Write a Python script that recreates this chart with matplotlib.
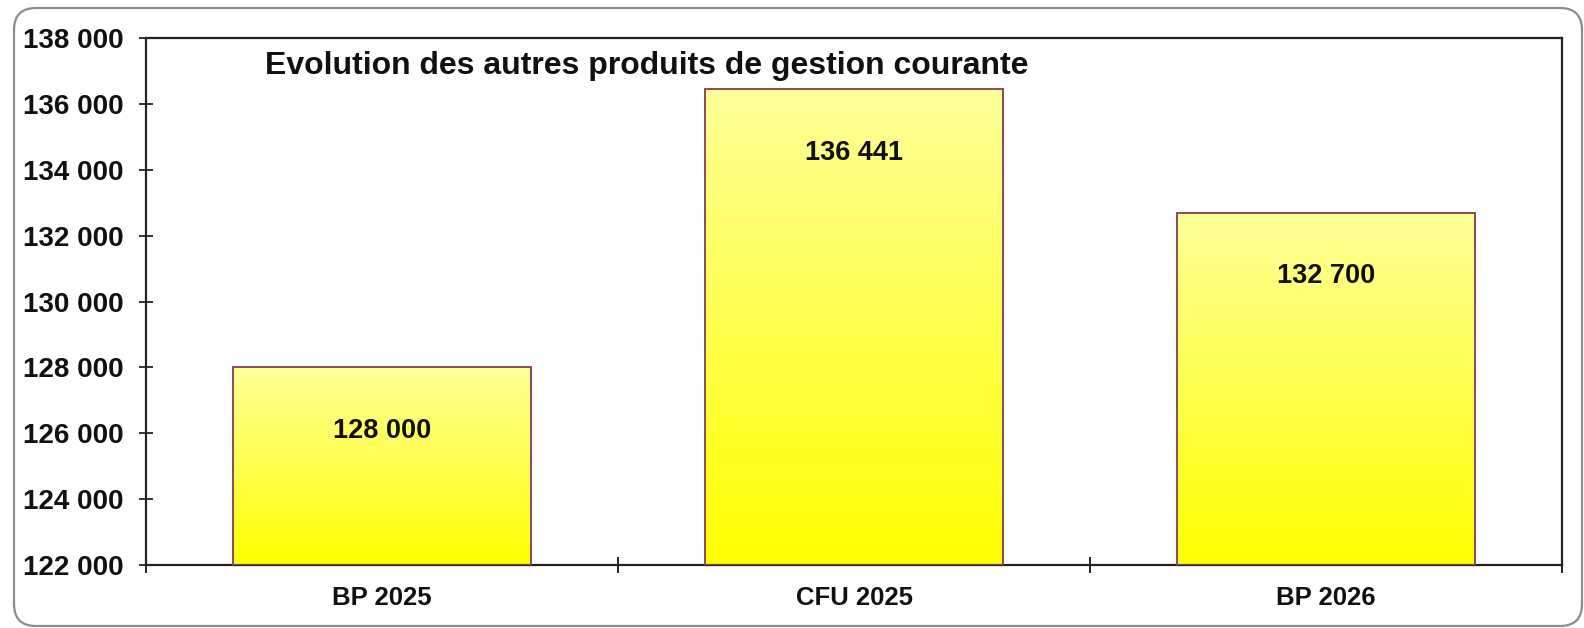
import matplotlib
matplotlib.use("Agg")
import matplotlib.pyplot as plt
from matplotlib.colors import LinearSegmentedColormap
from matplotlib.patches import FancyBboxPatch
from matplotlib.ticker import FuncFormatter
import numpy as np

# Data
categories = ["BP 2025", "CFU 2025", "BP 2026"]
values = [128000, 136441, 132700]
y_ticks = list(range(122000, 138001, 2000))
title = "Evolution des autres produits de gestion courante"

plt.rcParams["font.family"] = ["Liberation Sans", "DejaVu Sans"]

fig = plt.figure(figsize=(15.84, 6.28), dpi=100)
ax = fig.add_axes([0.0922, 0.1003, 0.8939, 0.8392])

# Rounded frame round the chart
frame = FancyBboxPatch((14, 2), 1568, 618, boxstyle="round,pad=0,rounding_size=22",
                       transform=None, facecolor="white", edgecolor="#8c8c8c",
                       linewidth=1.6, zorder=-10)
fig.patches.append(frame)

ax.set_xlim(-0.5, len(categories) - 0.5)
ax.set_ylim(y_ticks[0], y_ticks[-1])

# Bars with a vertical yellow gradient
cmap = LinearSegmentedColormap.from_list("yel", ["#FFFF00", "#FFFF99"])
grad = np.linspace(0, 1, 256).reshape(-1, 1)
xs = np.arange(len(categories))
bars = ax.bar(xs, [v - y_ticks[0] for v in values], bottom=y_ticks[0], width=0.63,
              facecolor="none", edgecolor="#8a4a5a", linewidth=1.4, zorder=3)
for b in bars:
    x0, y0 = b.get_x(), b.get_y()
    im = ax.imshow(grad, extent=[x0, x0 + b.get_width(), y0, y0 + b.get_height()],
                   origin="lower", aspect="auto", cmap=cmap, zorder=2)
    im.set_clip_path(b)

# Value labels inside the bars
for x, v in zip(xs, values):
    ax.annotate(f"{v:,}".replace(",", " "), (x, v), xytext=(0, -46),
                textcoords="offset points", ha="center", va="center",
                fontsize=19.5, fontweight="bold", color="#111111", zorder=5)

ax.text(0.084, 0.946, title, transform=ax.transAxes, ha="left", va="center",
        fontsize=23, fontweight="bold", color="#111111")

# Axes styling
ax.set_yticks(y_ticks)
ax.yaxis.set_major_formatter(FuncFormatter(lambda v, p: f"{v:,.0f}".replace(",", " ")))
ax.set_xticks(np.arange(-0.5, len(categories), 1.0))
ax.set_xticklabels([])
ax.set_xticks(xs, minor=True)
ax.set_xticklabels(categories, minor=True)
ax.tick_params(axis="y", direction="inout", length=10, width=1.2, pad=11,
               labelsize=20, colors="#111111")
ax.tick_params(axis="x", which="major", direction="inout", length=12, width=1.2)
ax.tick_params(axis="x", which="minor", length=0, pad=15, labelsize=18.5, colors="#111111")
for lbl in ax.get_yticklabels() + ax.get_xticklabels(minor=True):
    lbl.set_fontweight("bold")
for s in ax.spines.values():
    s.set_linewidth(1.6)
    s.set_color("#222222")

fig.savefig("out.png", dpi=100)
